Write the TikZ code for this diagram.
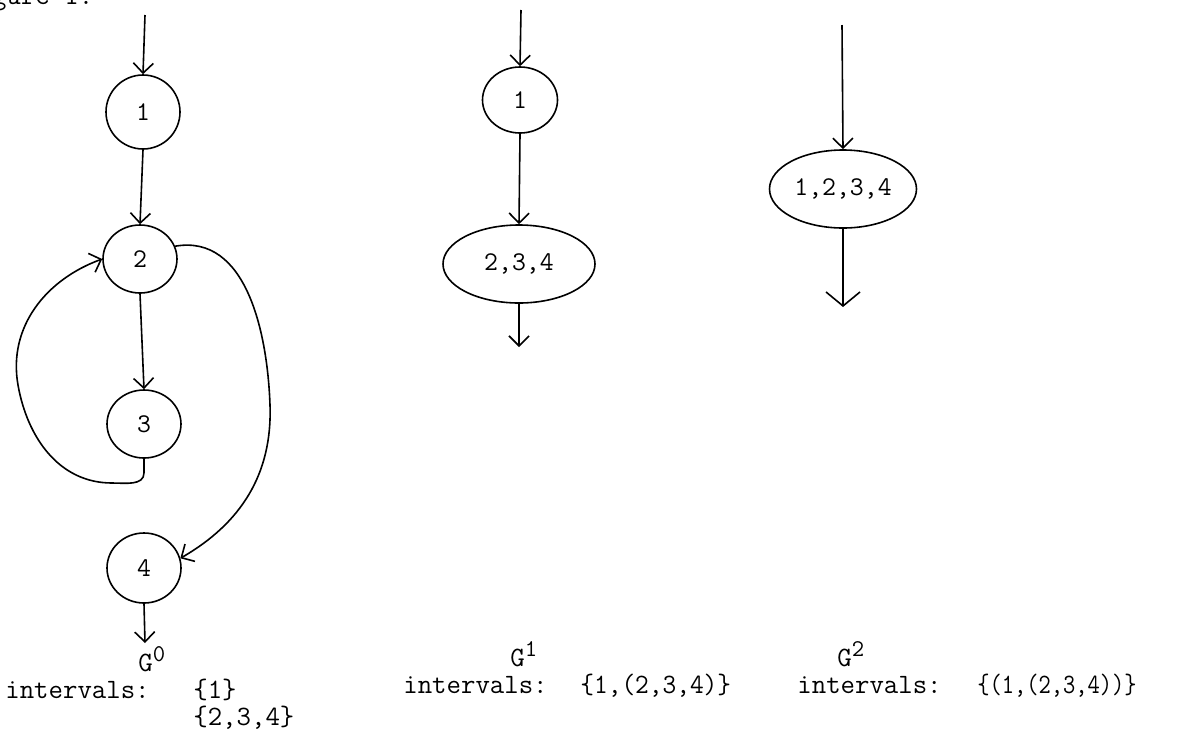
\documentclass[tikz,border=0pt]{standalone}
\usepackage{fontspec}
\usetikzlibrary{arrows.meta,shapes.geometric}
\tikzset{
  arr/.style={draw, line width=0.8pt, -{Straight Barb[length=5pt,width=10pt,line width=0.8pt]}},
  bigarr/.style={draw, line width=0.8pt, -{Straight Barb[length=7pt,width=17pt,line width=0.8pt]}},
  vnode/.style={ellipse, draw, line width=0.8pt, inner sep=0pt, font=\ttfamily\fontsize{13.5}{16}\selectfont},
  txt/.style={anchor=base west, inner sep=0pt, font=\ttfamily\fontsize{14}{16}\selectfont},
}
\newcommand{\gsup}[1]{G\raisebox{0.8ex}{\fontsize{12}{13}\selectfont #1}}
\begin{document}
\begin{tikzpicture}[x=0.5pt,y=-0.5pt]
\useasboundingbox (0,0) rectangle (1177,740);
% caption remnant
\node[txt] (fig) at (-37,4) {Figure 1.};
% ---------------- G0 ----------------
\coordinate (g0top) at (145,15);
\node[vnode, minimum width=37pt, minimum height=37pt] (a1) at (143,112) {1};
\node[vnode, minimum width=37pt, minimum height=34pt] (a2) at (140,259) {2};
\node[vnode, minimum width=37pt, minimum height=34pt] (a3) at (144,424) {3};
\node[vnode, minimum width=37pt, minimum height=35pt] (a4) at (144,568) {4};
\coordinate (g0bot) at (145,643);
\coordinate (lp1) at (112,483);
\coordinate (lp2) at (18,385);
\coordinate (rp1) at (270,405);
\draw[arr] (g0top) -- (a1.north);
\draw[arr] (a1.south) -- (a2.north);
\draw[arr] (a2.south) -- (a3.north);
\draw[arr] (a3.south) -- ++(0,14) to[out=-90,in=0] (lp1) to[out=180,in=-80] (lp2) to[out=100,in=200] (a2.west);
\draw[arr] (a2.20) to[out=10,in=92] (rp1) to[out=-88,in=30] (a4.15);
\draw[arr] (a4.south) -- (g0bot);
\node[txt] (g0) at (138,671) {\gsup{0}};
\node[txt] (i0) at (5,698) {intervals:};
\node[txt] (s01) at (193,698) {\{1\}};
\node[txt] (s02) at (193,725) {\{2,3,4\}};
% ---------------- G1 ----------------
\coordinate (g1top) at (521,10);
\node[vnode, minimum width=37.5pt, minimum height=33pt] (b1) at (520,100) {1};
\node[vnode, minimum width=76pt, minimum height=39pt] (b2) at (519,264) {2,3,4};
\coordinate (g1bot) at (519,347);
\draw[arr] (g1top) -- (b1.north);
\draw[arr] (b1.south) -- (b2.north);
\draw[arr] (b2.south) -- (g1bot);
\node[txt] (g1) at (510,666) {\gsup{1}};
\node[txt] (i1) at (403,693) {intervals:};
\node[txt] (s1) at (580,693) {\scalebox{0.95}[1]{\{1,(2,3,4)\}}};
% ---------------- G2 ----------------
\coordinate (g2top) at (842,25);
\node[vnode, minimum width=73.5pt, minimum height=39pt] (c1) at (843,189) {1,2,3,4};
\coordinate (g2bot) at (843,307);
\draw[arr] (g2top) -- (c1.north);
\draw[bigarr] (c1.south) -- (g2bot);
\node[txt] (g2) at (837,666) {\gsup{2}};
\node[txt] (i2) at (797,693) {intervals:};
\node[txt] (s2) at (977,693) {\scalebox{0.85}[1]{\{(1,(2,3,4))\}}};
\end{tikzpicture}
\end{document}
